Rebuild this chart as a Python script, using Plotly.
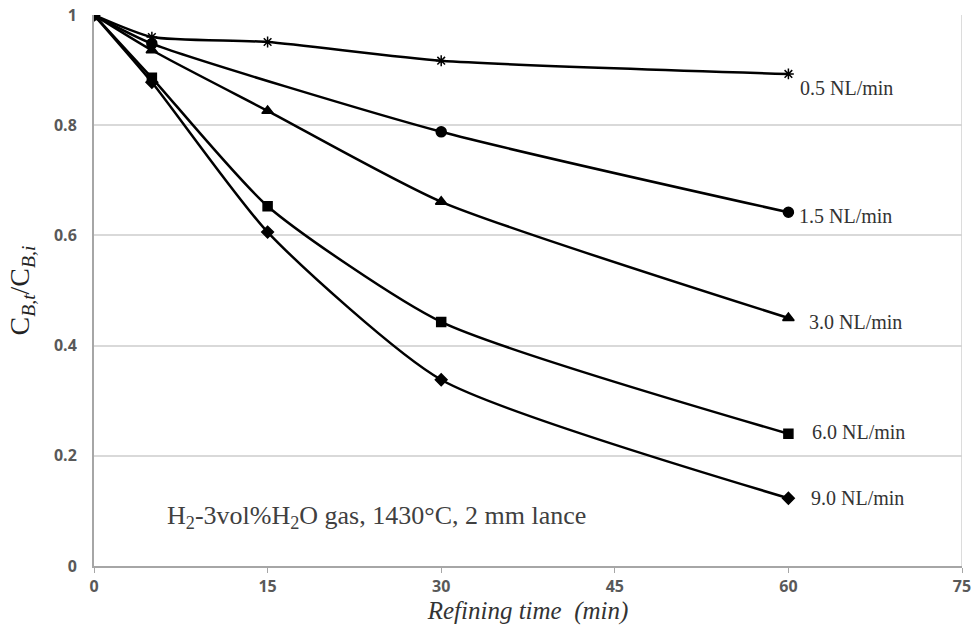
import plotly.graph_objects as go

# Refining time (min) and normalised boron concentration for each gas flow rate
time_min = [0, 5, 15, 30, 60]
flow_labels = ["0.5 NL/min", "1.5 NL/min", "3.0 NL/min", "6.0 NL/min", "9.0 NL/min"]
ratio_05 = [1.0, 0.960, 0.951, 0.917, 0.893]
ratio_15 = [1.0, 0.948, None, 0.788, 0.642]
ratio_30 = [1.0, 0.936, 0.826, 0.661, 0.450]
ratio_60 = [1.0, 0.886, 0.653, 0.443, 0.240]
ratio_90 = [1.0, 0.878, 0.606, 0.338, 0.123]

x_ticks = [0, 15, 30, 45, 60, 75]
y_ticks = [0, 0.2, 0.4, 0.6, 0.8, 1]
y_tick_text = ["0", "0.2", "0.4", "0.6", "0.8", "1"]

series = [
    (ratio_05, "asterisk-open", 9),
    (ratio_15, "circle", 10),
    (ratio_30, "triangle-up", 10),
    (ratio_60, "square", 9),
    (ratio_90, "diamond", 9),
]
label_shift = [(10, -14), (9, -4), (19, -4), (22, 2), (21, 0)]

fig = go.Figure()
for (vals, sym, size), name in zip(series, flow_labels):
    xs = [t for t, v in zip(time_min, vals) if v is not None]
    ys = [v for v in vals if v is not None]
    fig.add_trace(go.Scatter(
        x=xs, y=ys, name=name, mode="lines+markers",
        line=dict(color="black", width=2.5, shape="spline", smoothing=0.6),
        marker=dict(symbol=sym, size=size, color="black",
                    line=dict(color="black", width=1.5)),
        showlegend=False,
    ))

for (vals, _, _), name, (dx, dy) in zip(series, flow_labels, label_shift):
    fig.add_annotation(
        x=time_min[-1], y=vals[-1], xref="x", yref="y",
        text=name, showarrow=False, xanchor="left", yanchor="middle",
        xshift=dx, yshift=dy,
        font=dict(family="Liberation Serif", size=20, color="#333333"),
    )

fig.add_annotation(
    x=6.1, y=0.089, xref="x", yref="y", xanchor="left", yanchor="middle",
    text="H<sub>2</sub>-3vol%H<sub>2</sub>O gas, 1430°C, 2 mm lance",
    showarrow=False,
    font=dict(family="Liberation Serif", size=26, color="#404040"),
)

fig.update_layout(
    width=974, height=635,
    margin=dict(l=94, r=12, t=15, b=69),
    paper_bgcolor="white", plot_bgcolor="white",
    xaxis=dict(
        range=[0, 75], tickvals=x_ticks, ticktext=[str(v) for v in x_ticks],
        showgrid=False, zeroline=False, automargin=False,
        showline=True, linecolor="#a6a6a6", linewidth=2, mirror=False,
        ticks="outside", ticklen=5, tickcolor="#a6a6a6", tickwidth=1,
        tickfont=dict(family="Open Sans", size=16, color="#595959", weight="bold"),
        title=dict(text="<i>Refining time  (min)</i>", standoff=4,
                   font=dict(family="Liberation Serif", size=25, color="#333333")),
    ),
    yaxis=dict(
        range=[0, 1], tickvals=y_ticks, ticktext=y_tick_text,
        showgrid=True, gridcolor="#d9d9d9", gridwidth=1.5, zeroline=False,
        automargin=False,
        showline=True, linecolor="#a6a6a6", linewidth=2,
        ticks="", ticklabelstandoff=12,
        tickfont=dict(family="Open Sans", size=16, color="#595959", weight="bold"),
        title=dict(text="C<sub><i>B,t</i></sub>/C<sub><i>B,i</i></sub>", standoff=16,
                   font=dict(family="Liberation Serif", size=28, color="#222222")),
    ),
)

# right-hand border of the plot area
fig.add_shape(type="line", xref="x", yref="paper", x0=75, x1=75, y0=0, y1=1,
              line=dict(color="#d0d0d0", width=1.5))

fig.write_html("out.html")
